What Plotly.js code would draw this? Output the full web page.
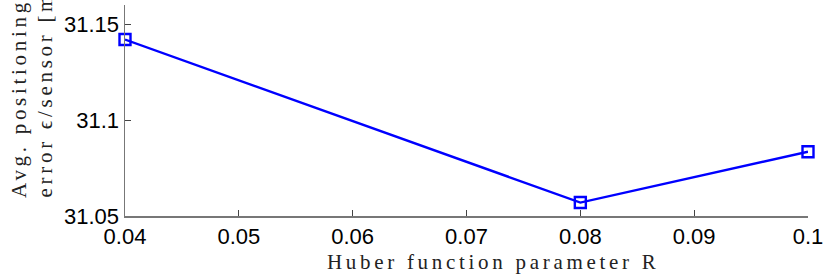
<!DOCTYPE html>
<html><head><meta charset="utf-8">
<script src="https://cdn.plot.ly/plotly-3.0.1.min.js"></script>
<style>
html,body{margin:0;padding:0;background:#fff;}
.annotation-text { letter-spacing: 3.7px; }
</style>
</head><body>
<div id="chart" style="width:830px;height:277px;"></div>
<script>
const paramR = [0.04, 0.08, 0.1];
const avgError = [31.142, 31.057, 31.0835];
const xTicks = [0.04, 0.05, 0.06, 0.07, 0.08, 0.09, 0.1];
const xTickText = ['0.04', '0.05', '0.06', '0.07', '0.08', '0.09', '0.1'];
const yTicks = [31.05, 31.1, 31.15];
const yTickText = ['31.05', '31.1', '31.15'];
const xTitle = 'Huber function parameter R';
const yTitleLines = ['Avg. positioning', 'error ϵ/sensor [m]'];

const titleFont = {family: 'Liberation Serif, DejaVu Serif, serif', size: 21, color: '#222'};

Plotly.newPlot('chart', [{
  x: paramR, y: avgError, type: 'scatter', mode: 'lines+markers',
  line: {color: '#0000ff', width: 2.4},
  marker: {symbol: 'square-open', size: 11, color: '#0000ff', line: {width: 2.4, color: '#0000ff'}},
  cliponaxis: false
}], {
  width: 830, height: 277,
  margin: {l: 125, r: 22, t: 5, b: 61},
  paper_bgcolor: '#fff', plot_bgcolor: '#fff',
  showlegend: false,
  font: {family: 'Liberation Sans, Arial, sans-serif', color: '#000', size: 22},
  xaxis: {
    range: [0.04, 0.1], tickvals: xTicks, ticktext: xTickText,
    ticks: 'inside', ticklen: 6, tickcolor: '#444', tickwidth: 1,
    showline: true, linecolor: '#777', linewidth: 1.5, showgrid: false, zeroline: false,
    tickfont: {size: 22, family: 'Liberation Sans, Arial, sans-serif'}
  },
  yaxis: {
    range: [31.05, 31.16], tickvals: yTicks, ticktext: yTickText,
    ticks: 'inside', ticklen: 6, tickcolor: '#444', tickwidth: 1,
    showline: true, linecolor: '#777', linewidth: 1.5, showgrid: false, zeroline: false,
    tickfont: {size: 22, family: 'Liberation Sans, Arial, sans-serif'}
  },
  annotations: [
    {text: xTitle, xref: 'paper', yref: 'paper', x: 0.539, y: 0, xanchor: 'center', yanchor: 'middle',
     yshift: -46, showarrow: false, font: titleFont},
    {text: yTitleLines[0], xref: 'paper', yref: 'paper', x: 0, y: 0.555, xanchor: 'center', yanchor: 'middle',
     xshift: -106, textangle: -90, showarrow: false, font: titleFont},
    {text: yTitleLines[1], xref: 'paper', yref: 'paper', x: 0, y: 0.6, xanchor: 'center', yanchor: 'middle',
     xshift: -80, textangle: -90, showarrow: false, font: titleFont}
  ]
}, {displayModeBar: false, staticPlot: true});
</script>
</body></html>
